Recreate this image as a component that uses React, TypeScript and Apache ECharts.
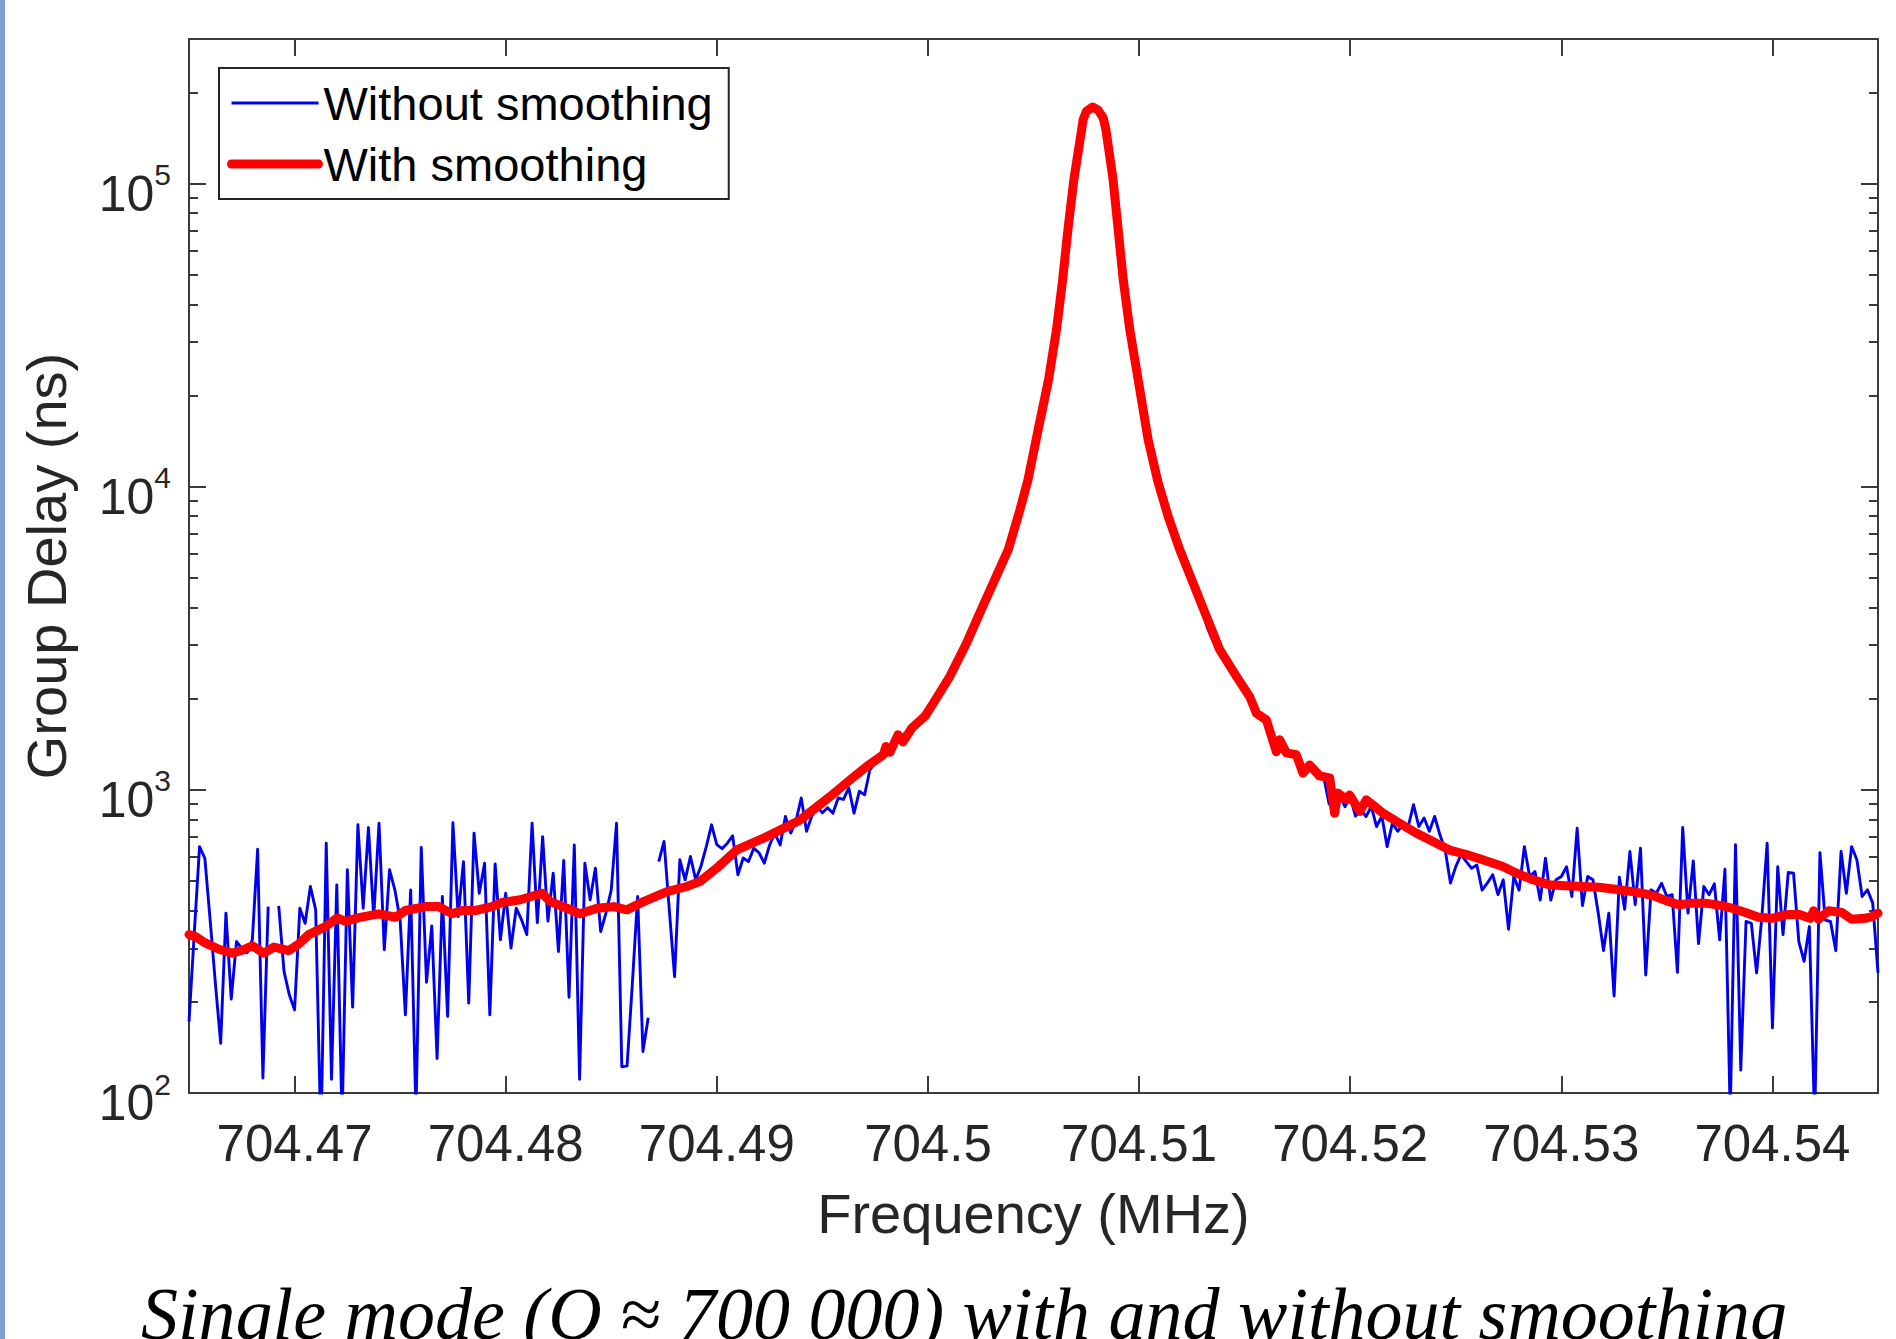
import React, { useEffect, useRef } from 'react';
import * as echarts from 'echarts';

// ---------------- data ----------------
const seriesNames = ['Without smoothing', 'With smoothing'];
const xAxisTitle = 'Frequency (MHz)';
const yAxisTitle = 'Group Delay (ns)';
const captionText = 'Single mode (Q \u2248 700 000) with and without smoothing';

// raw sweep: start frequency and step of the VNA sweep (MHz)
const freqStart = 704.465;
const freqStep = 0.00025;
// raw group delay (ns), one value per sweep point, null = no valid value
const rawDelay: (number | null)[] = [
  172, 337, 650, 595, 373, 230, 146, 392, 204, 316,
  300, 290, 320, 637, 112, 412, null, 414, 252, 211,
  188, 407, 363, 480, 402, 70, 667, 111, 486, 80,
  545, 192, 767, 407, 751, 380, 776, 297, 545, 468,
  373, 181, 468, 85, 646, 232, 356, 130, 445, 179,
  780, 382, 580, 198, 720, 456, 573, 181, 570, 320,
  456, 301, 407, 373, 333, 776, 365, 701, 369, 531,
  293, 585, 207, 658, 111, 573, 434, 552, 341, 392,
  468, 776, 122, 123, 230, 445, 137, 177, null, 580,
  676, 402, 242, 588, 505, 603, 505, 560, 650, 767,
  660, 640, 667, 705, 525, 596, 580, 642, 620, 573,
  658, 719, 658, 817, 720, 790, 940, 730, 820, 880,
  840, 873, 838, 940, 930, 1016, 838, 989, 963, 1165,
  1228, 1290, 1320, 1400, 1460, 1510, 1550, 1590, 1630, 1720,
  1830, 1930, 2060, 2200, 2350, 2520, 2740, 2990, 3250, 3570,
  3950, 4350, 4700, 5080, 5500, 6060, 6800, 7650, 9000, 10600,
  12900, 15800, 19200, 23300, 29800, 40500, 58000, 84000, 115000, 149000,
  172000, 179000, 174000, 160000, 140000, 104000, 70000, 47500, 35000, 27000,
  21800, 17500, 13900, 11200, 9700, 8400, 7500, 6900, 6000, 5400,
  4900, 4400, 3900, 3400, 3100, 2920, 2700, 2550, 2420, 2280,
  2150, 2020, 1810, 1740, 1700, 1520, 1330, 1420, 1320, 1330,
  1270, 1130, 1200, 1150, 1110, 1100, 900, 850, 960, 880,
  950, 820, 860, 817, 881, 757, 819, 650, 776, 730,
  767, 757, 894, 757, 808, 730, 817, 711, 633, 493,
  558, 611, 580, 551, 565, 467, 493, 525, 451, 505,
  347, 518, 467, 650, 518, 538, 433, 595, 433, 505,
  518, 558, 445, 747, 415, 518, 505, 392, 295, 392,
  209, 515, 404, 626, 418, 642, 245, 468, 456, 492,
  445, 451, 250, 751, 392, 583, 311, 480, 451, 490,
  320, 547, 85, 659, 119, 368, 363, 249, 382, 667,
  164, 558, 333, 534, 531, 316, 272, 354, 80, 621,
  372, 368, 295, 626, 456, 650, 588, 445, 468, 423,
  249,
];

// smoothed curve
const smoothFreq = [
  704.465, 704.46531, 704.46579, 704.46642, 704.46705, 704.4676, 704.468, 704.46854, 704.46902, 704.46973,
  704.4702, 704.47067, 704.47146, 704.47202, 704.47241, 704.47304, 704.47399, 704.47478, 704.47525, 704.4762,
  704.47683, 704.47746, 704.47793, 704.47856, 704.47935, 704.47983, 704.48069, 704.48172, 704.48211, 704.4829,
  704.48353, 704.48432, 704.48511, 704.48574, 704.48653, 704.48764, 704.48858, 704.48921, 704.49, 704.49095,
  704.49237, 704.49395, 704.49536, 704.49631, 704.4971, 704.49789, 704.49801, 704.4982, 704.49858, 704.49882,
  704.49924, 704.49986, 704.50025, 704.50104, 704.50183, 704.50238, 704.50309, 704.5038, 704.50436, 704.50474,
  704.50522, 704.50571, 704.50609, 704.50638, 704.50663, 704.50691, 704.50728, 704.50735, 704.50751, 704.5078,
  704.50806, 704.5083, 704.50843, 704.50877, 704.50901, 704.50925, 704.50956, 704.50996, 704.51043, 704.51089,
  704.51138, 704.51193, 704.51256, 704.51335, 704.51382, 704.51461, 704.51524, 704.51556, 704.51603, 704.5165,
  704.51666, 704.51698, 704.51745, 704.51776, 704.51808, 704.51855, 704.51903, 704.51926, 704.51942, 704.51982,
  704.51997, 704.52045, 704.52076, 704.52155, 704.52234, 704.52313, 704.52392, 704.52471, 704.5255, 704.52628,
  704.52723, 704.52786, 704.52865, 704.52944, 704.5302, 704.53099, 704.53177, 704.53256, 704.53335, 704.53398,
  704.53446, 704.53493, 704.53556, 704.53619, 704.53682, 704.53761, 704.53824, 704.53872, 704.53934, 704.53998,
  704.54061, 704.54124, 704.54179, 704.54195, 704.54218, 704.54266, 704.54329, 704.54376, 704.54439, 704.54471,
  704.545,
];
const smoothDelay = [
  333, 328, 312, 298, 289, 297, 306, 289, 303, 295,
  310, 333, 354, 378, 368, 379, 390, 380, 400, 412,
  412, 390, 400, 400, 412, 425, 434, 456, 428, 407,
  390, 407, 412, 402, 428, 462, 480, 499, 552, 634,
  701, 796, 950, 1079, 1195, 1306, 1390, 1330, 1520, 1440,
  1600, 1750, 1930, 2370, 3050, 3730, 4810, 6190, 8400, 10550,
  15420, 22500, 33000, 48200, 70500, 103000, 150700, 162600, 173400, 179000,
  174800, 164900, 150700, 103000, 70500, 48200, 33000, 22500, 14300, 10400,
  7980, 6190, 4810, 3500, 2900, 2370, 2030, 1790, 1700, 1337,
  1463, 1324, 1306, 1136, 1208, 1112, 1096, 838, 976, 927,
  962, 849, 927, 838, 776, 720, 676, 633, 612, 588,
  559, 532, 505, 486, 483, 480, 477, 470, 462, 454,
  445, 432, 418, 423, 423, 415, 404, 394, 380, 377,
  387, 389, 377, 399, 374, 399, 394, 374, 377, 382,
  392,
];

const xTickValues = [704.47, 704.48, 704.49, 704.5, 704.51, 704.52, 704.53, 704.54];
const xTickLabels = ['704.47', '704.48', '704.49', '704.5', '704.51', '704.52', '704.53', '704.54'];
const yTickValues = [100, 1000, 10000, 100000];
const yTickExponents = ['2', '3', '4', '5'];
const yMinorTickValues = [
  200, 300, 400, 500, 600, 700, 800, 900,
  2000, 3000, 4000, 5000, 6000, 7000, 8000, 9000,
  20000, 30000, 40000, 50000, 60000, 70000, 80000, 90000,
  200000,
];

// ---------------- chart ----------------
const FONT = "'Liberation Sans', Arial, Helvetica, sans-serif";
const AXIS_COLOR = '#3a3a3a';
const TEXT_COLOR = '#262626';
const RAW_COLOR = '#0000ee';
const SMOOTH_COLOR = '#ff0000';
const RAW_WIDTH = 2.9;
const SMOOTH_WIDTH = 9;

function buildOption() {
  const rawData = rawDelay.map((v, i) => [freqStart + i * freqStep, v === null ? '-' : v]);
  const smoothData = smoothFreq.map((f, i) => [f, smoothDelay[i]]);

  const xMin = 704.465;
  const xMax = 704.545;
  const yMin = 100;
  const yMax = 300000;

  const axisLine = { show: true, onZero: false, lineStyle: { color: AXIS_COLOR, width: 2 } };
  const majorTick = (vals: number[]) => ({
    show: true,
    inside: true,
    length: 17,
    customValues: vals,
    lineStyle: { color: AXIS_COLOR, width: 2 },
  });
  const minorTick = {
    show: true,
    inside: true,
    length: 9,
    customValues: yMinorTickValues,
    lineStyle: { color: AXIS_COLOR, width: 2 },
  };

  const xLabel = (v: number) => {
    const idx = xTickValues.findIndex((t) => Math.abs(t - v) < 1e-7);
    return idx >= 0 ? xTickLabels[idx] : '';
  };
  const yLabel = (v: number) => {
    const idx = yTickValues.findIndex((t) => Math.abs(t - v) / t < 1e-6);
    return idx >= 0 ? `{b|10}{s|${yTickExponents[idx]}}` : '';
  };

  const logAxisBase = {
    type: 'log',
    logBase: 10,
    min: yMin,
    max: yMax,
    splitLine: { show: false },
    minorTick: { show: false },
    minorSplitLine: { show: false },
  };

  return {
    animation: false,
    backgroundColor: '#ffffff',
    grid: {
      left: 189,
      top: 39,
      width: 1689,
      height: 1054,
      containLabel: false,
      outerBoundsMode: 'none',
    },
    legend: {
      show: true,
      orient: 'vertical',
      left: 219,
      top: 68,
      itemWidth: 87,
      itemHeight: 10,
      itemGap: 11,
      padding: [10, 16, 10, 8],
      borderColor: '#262626',
      borderWidth: 2,
      backgroundColor: '#ffffff',
      itemStyle: { opacity: 0 },
      textStyle: { fontSize: 47, fontFamily: FONT, color: '#000000', lineHeight: 50 },
      data: [
        { name: seriesNames[0], lineStyle: { color: RAW_COLOR, width: RAW_WIDTH }, itemStyle: { opacity: 0 } },
        { name: seriesNames[1], lineStyle: { color: SMOOTH_COLOR, width: SMOOTH_WIDTH }, itemStyle: { opacity: 0 } },
      ],
      selectedMode: false,
    },
    xAxis: [
      {
        type: 'value',
        position: 'bottom',
        min: xMin,
        max: xMax,
        axisLine,
        axisTick: majorTick(xTickValues),
        axisLabel: {
          show: true,
          customValues: xTickValues,
          formatter: xLabel,
          fontSize: 51,
          lineHeight: 52,
          fontFamily: FONT,
          color: TEXT_COLOR,
          margin: 24,
        },
        splitLine: { show: false },
        name: xAxisTitle,
        nameLocation: 'middle',
        nameGap: 92,
        nameMoveOverlap: false,
        nameTextStyle: { fontSize: 56, lineHeight: 56, fontFamily: FONT, color: TEXT_COLOR },
      },
      {
        type: 'value',
        position: 'top',
        min: xMin,
        max: xMax,
        axisLine,
        axisTick: majorTick(xTickValues),
        axisLabel: { show: false },
        splitLine: { show: false },
      },
    ],
    yAxis: [
      {
        ...logAxisBase,
        position: 'left',
        axisLine,
        axisTick: majorTick(yTickValues),
        axisLabel: {
          show: true,
          customValues: yTickValues,
          formatter: yLabel,
          margin: 18,
          padding: [20, 0, 0, 0],
          rich: {
            b: { fontSize: 50, lineHeight: 68, fontFamily: FONT, color: TEXT_COLOR, verticalAlign: 'middle' },
            s: { fontSize: 30, lineHeight: 30, fontFamily: FONT, color: TEXT_COLOR, verticalAlign: 'top' },
          },
        },
        name: yAxisTitle,
        nameLocation: 'middle',
        nameGap: 115,
        nameRotate: 90,
        nameMoveOverlap: false,
        nameTextStyle: { fontSize: 56, lineHeight: 56, fontFamily: FONT, color: TEXT_COLOR },
      },
      {
        ...logAxisBase,
        position: 'left',
        axisLine: { show: false },
        axisTick: minorTick,
        axisLabel: { show: false },
      },
      {
        ...logAxisBase,
        position: 'right',
        axisLine,
        axisTick: majorTick(yTickValues),
        axisLabel: { show: false },
      },
      {
        ...logAxisBase,
        position: 'right',
        axisLine: { show: false },
        axisTick: minorTick,
        axisLabel: { show: false },
      },
    ],
    series: [
      {
        name: seriesNames[0],
        type: 'line',
        xAxisIndex: 0,
        yAxisIndex: 0,
        data: rawData,
        symbol: 'none',
        showSymbol: false,
        connectNulls: false,
        clip: true,
        color: RAW_COLOR,
        lineStyle: { color: RAW_COLOR, width: RAW_WIDTH, join: 'round' },
        z: 2,
      },
      {
        name: seriesNames[1],
        type: 'line',
        xAxisIndex: 0,
        yAxisIndex: 0,
        data: smoothData,
        symbol: 'none',
        showSymbol: false,
        clip: true,
        color: SMOOTH_COLOR,
        lineStyle: { color: SMOOTH_COLOR, width: SMOOTH_WIDTH, join: 'round', cap: 'round' },
        z: 3,
      },
    ],
    graphic: [
      {
        type: 'rect',
        shape: { x: 0, y: 0, width: 5, height: 1339 },
        style: { fill: '#7f9fd8' },
        silent: true,
      },
      {
        type: 'text',
        x: 964,
        y: 1351,
        silent: true,
        style: {
          text: captionText,
          fill: '#000000',
          fontSize: 74,
          fontFamily: "'Liberation Serif', 'DejaVu Serif', serif",
          fontStyle: 'italic',
          align: 'center',
          verticalAlign: 'bottom',
        },
      },
    ],
  };
}

export default function App() {
  const ref = useRef<HTMLDivElement>(null);

  useEffect(() => {
    document.body.style.margin = '0';
    document.body.style.overflow = 'hidden';
    const el = ref.current;
    if (!el) return;
    const chart = echarts.init(el, undefined, { renderer: 'svg' });
    chart.setOption(buildOption() as any);
    return () => {
      chart.dispose();
    };
  }, []);

  return <div ref={ref} style={{ width: 1896, height: 1339, background: '#ffffff' }} />;
}
